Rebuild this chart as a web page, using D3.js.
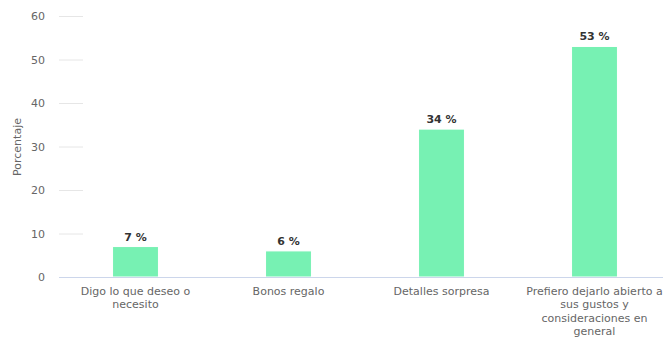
<!DOCTYPE html>
<html>
<head>
<meta charset="utf-8">
<script src="https://cdn.jsdelivr.net/npm/d3@7"></script>
<style>
  body { margin: 0; background: #fff; }
  svg { font-family: "DejaVu Sans", Verdana, sans-serif; }
</style>
</head>
<body>
<svg width="663" height="337"></svg>
<script>
const categories = ["Digo lo que deseo o necesito", "Bonos regalo", "Detalles sorpresa",
  "Prefiero dejarlo abierto a sus gustos y consideraciones en general"];
const values = [7, 6, 34, 53];
const yTicks = [0, 10, 20, 30, 40, 50, 60];

const svg = d3.select("svg");
const plotLeft = 59, plotRight = 671, plotTop = 16, plotBottom = 277;

const x = d3.scaleBand().domain(categories).range([plotLeft, plotRight])
  .paddingInner(0.7).paddingOuter(0.35);
const y = d3.scaleLinear().domain([0, 60]).range([plotBottom, plotTop]);

// short grid marks next to the axis labels
svg.append("g").selectAll("line")
  .data(yTicks.filter(d => d > 0))
  .join("line")
  .attr("x1", plotLeft).attr("x2", plotLeft + 24)
  .attr("y1", d => y(d) + 0.5).attr("y2", d => y(d) + 0.5)
  .attr("stroke", "#e6e6e6");

svg.append("g").selectAll("text")
  .data(yTicks)
  .join("text")
  .attr("x", 45).attr("y", d => y(d) + 4)
  .attr("text-anchor", "end")
  .attr("font-size", 11).attr("fill", "#666")
  .text(d => d);

svg.append("text")
  .attr("transform", "translate(21,147) rotate(-90)")
  .attr("text-anchor", "middle")
  .attr("font-size", 11).attr("fill", "#666")
  .text("Porcentaje");

// bars
svg.append("g").selectAll("rect")
  .data(values)
  .join("rect")
  .attr("x", (d, i) => x(categories[i]))
  .attr("y", d => y(d))
  .attr("width", x.bandwidth())
  .attr("height", d => plotBottom - y(d))
  .attr("fill", "#77f1b3")
  .attr("stroke", "#fff").attr("stroke-width", 1);

// axis line
svg.append("line")
  .attr("x1", plotLeft).attr("x2", 663)
  .attr("y1", plotBottom + 0.5).attr("y2", plotBottom + 0.5)
  .attr("stroke", "#ccd6eb");

// value labels
svg.append("g").selectAll("text")
  .data(values)
  .join("text")
  .attr("x", (d, i) => x(categories[i]) + x.bandwidth() / 2)
  .attr("y", d => y(d) - 6)
  .attr("text-anchor", "middle")
  .attr("font-size", 11).attr("font-weight", "bold").attr("fill", "#333")
  .text(d => d + " %");

// category labels, wrapped
const maxW = 145;
categories.forEach((c, i) => {
  const t = svg.append("text")
    .attr("text-anchor", "middle")
    .attr("font-size", 11).attr("fill", "#666");
  const cx = x(c) + x.bandwidth() / 2;
  const words = c.split(" ");
  let lines = [], cur = [];
  const probe = svg.append("text").attr("font-size", 11);
  words.forEach(w => {
    const test = cur.concat(w).join(" ");
    probe.text(test);
    if (probe.node().getComputedTextLength() > maxW && cur.length) {
      lines.push(cur.join(" "));
      cur = [w];
    } else cur.push(w);
  });
  lines.push(cur.join(" "));
  probe.remove();
  lines.forEach((l, k) => {
    t.append("tspan").attr("x", cx).attr("y", 295 + k * 13.3).text(l);
  });
});
</script>
</body>
</html>
